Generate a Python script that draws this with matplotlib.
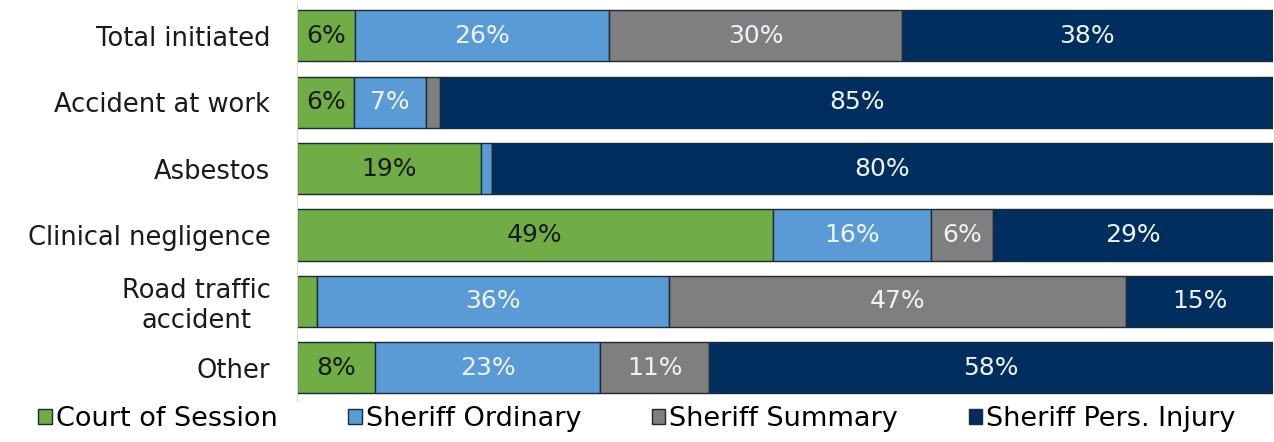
import numpy as np
import matplotlib.pyplot as plt

plt.rcParams['font.family'] = ['DejaVu Sans']

categories = ['Total initiated', 'Accident at work', 'Asbestos', 'Clinical negligence',
              'Road traffic\naccident', 'Other']
court_of_session = [6.0, 5.9, 18.9, 48.8, 2.1, 8.0]
sheriff_ordinary = [26.0, 7.3, 1.1, 16.2, 36.0, 23.1]
sheriff_summary = [30.0, 1.5, 0.0, 6.3, 46.9, 11.1]
sheriff_pers_injury = [38.0, 85.3, 80.0, 28.7, 15.0, 57.8]

series_names = ['Court of Session', 'Sheriff Ordinary', 'Sheriff Summary', 'Sheriff Pers. Injury']
colors = ['#70AD47', '#5B9BD5', '#7F7F7F', '#002E5E']
text_colors = ['#1a1a1a', '#eef3f8', '#eef3f8', '#eef3f8']

series = [court_of_session, sheriff_ordinary, sheriff_summary, sheriff_pers_injury]

fig = plt.figure(figsize=(12.74, 4.42), dpi=100)
ax = fig.add_axes([0.233, 0.093, 0.766, 0.901])

y = np.arange(len(categories))
left = np.zeros(len(categories))
for vals, name, col, tcol in zip(series, series_names, colors, text_colors):
    vals = np.array(vals)
    ax.barh(y, vals, left=left, height=0.77, color=col, edgecolor='#1c2a38',
            linewidth=1.0, label=name)
    for yi, (l, v) in enumerate(zip(left, vals)):
        if v >= 5:
            ax.text(l + v / 2, yi, f'{v:.0f}%', ha='center', va='center',
                    color=tcol, fontsize=18)
    left += vals

ax.set_xlim(0, 100)
ax.set_ylim(len(categories) - 0.5, -0.5)
ax.set_yticks(y)
ax.set_yticklabels(categories, fontsize=18.5, color='#1a1a1a', multialignment='center')
ax.tick_params(axis='y', length=0, pad=19)
ax.set_xticks([])
for s in ['top', 'right', 'bottom']:
    ax.spines[s].set_visible(False)
ax.spines['left'].set_color('#d9d9d9')

fig.legend(loc='center', bbox_to_anchor=(0.5, 0.052), ncol=4, frameon=False,
           fontsize=19.5, handlelength=0.5, handleheight=0.5, handletextpad=0.15,
           columnspacing=2.6)

plt.savefig('out.png', dpi=100)
